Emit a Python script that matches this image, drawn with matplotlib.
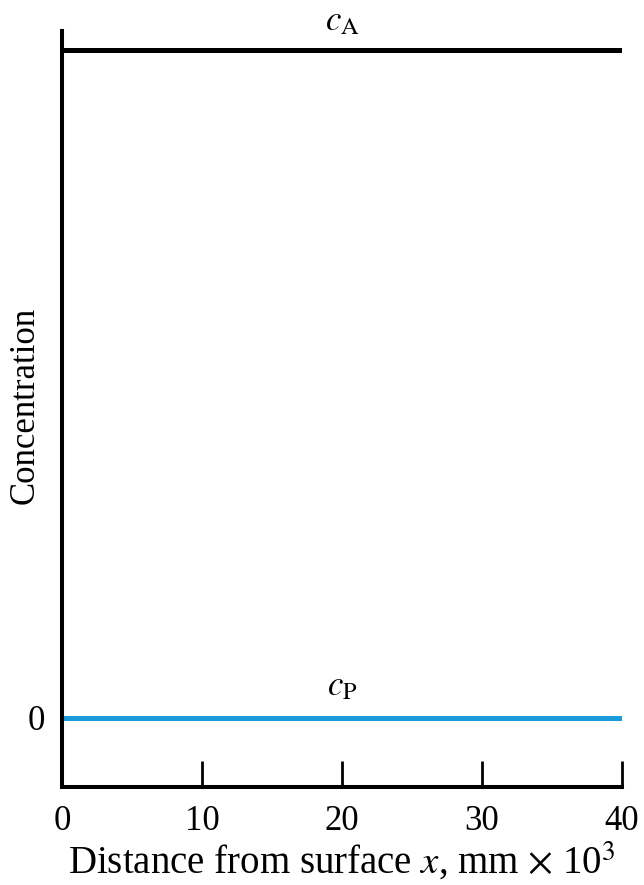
import matplotlib
matplotlib.use("Agg")
import matplotlib.pyplot as plt

plt.rcParams['font.family'] = ['Liberation Serif', 'DejaVu Serif']
plt.rcParams['mathtext.fontset'] = 'stix'

# data
x_range = [0, 40]
x_ticks = [0, 10, 20, 30, 40]
c_A = [1.0, 1.0]
c_P = [0.0, 0.0]

fig = plt.figure(figsize=(6.44, 8.85), dpi=100)
W, H = 644, 885
left, right, bottom, top = 62, 622, 787, 31
ax = fig.add_axes([left / W, 1 - bottom / H, (right - left) / W, (bottom - top) / H])

ax.plot(x_range, c_A, color='black', linewidth=3.6, solid_capstyle='butt')
ax.plot(x_range, c_P, color='#1a9ad8', linewidth=3.6, solid_capstyle='butt')

ax.text(20, 1.029, r'$c_{\mathrm{A}}$', ha='center', va='baseline', fontsize=25)
ax.text(20, 0.034, r'$c_{\mathrm{P}}$', ha='center', va='baseline', fontsize=25)

ax.set_xlim(0, 40)
ax.set_ylim(-0.104, 1.0277)
ax.spines['top'].set_visible(False)
ax.spines['right'].set_visible(False)
for s in ['left', 'bottom']:
    ax.spines[s].set_linewidth(2.9)

ax.set_xticks(x_ticks)
ax.set_xticklabels([str(t) for t in x_ticks])
ax.tick_params(axis='x', direction='in', length=19, width=2.0, labelsize=25, pad=13)
ax.set_yticks([0])
ax.set_yticklabels(['0'])
ax.tick_params(axis='y', length=0, labelsize=25, pad=12)

fig.text(342 / W, 1 - 874 / H, r'Distance from surface $x$, mm $\times$ 10$^3$',
         fontsize=28, ha='center', va='baseline')
fig.text(25 / W, 1 - 405 / H, 'Concentration', fontsize=25, rotation=90,
         ha='center', va='center')

fig.savefig('out.png', dpi=100)
